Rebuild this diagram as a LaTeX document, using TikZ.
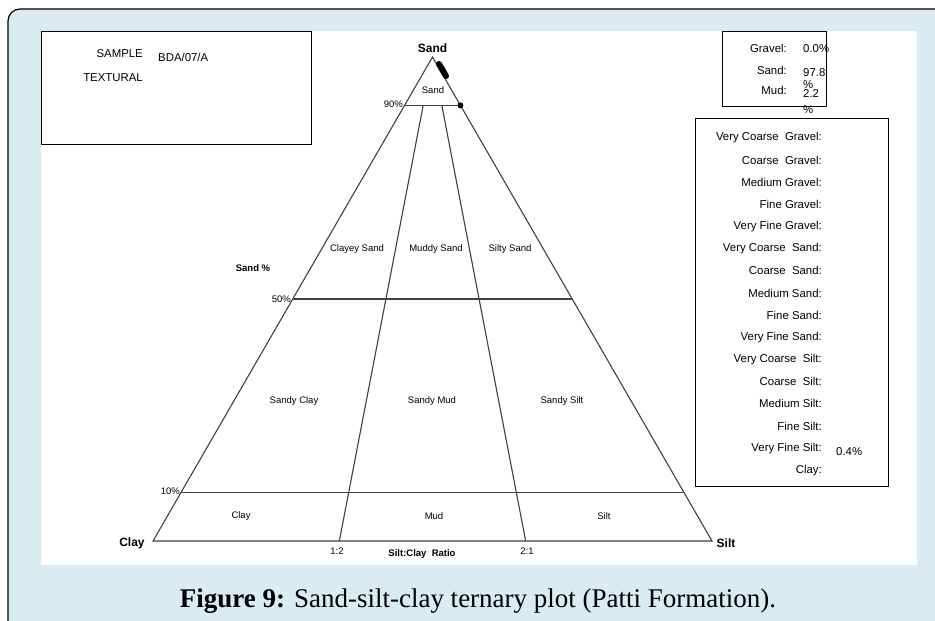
\documentclass[tikz,border=0pt]{standalone}
\usepackage{fontspec}
\setmainfont{Liberation Sans}
\newfontfamily\capfont{Liberation Serif}
\usetikzlibrary{calc}
\definecolor{bgblue}{HTML}{D8ECF1}
\definecolor{linegray}{HTML}{404040}
\tikzset{
  lbl/.style={font=\fontsize{9.5}{10}\selectfont, inner sep=0pt},
  vtx/.style={font=\bfseries\fontsize{12}{13}\selectfont, inner sep=0pt},
  info/.style={font=\fontsize{11.4}{12}\selectfont, inner sep=0pt},
  rinfo/.style={info, anchor=east},
  linfo/.style={info, anchor=west},
  tri/.style={draw=linegray, line width=1.1pt},
  boxs/.style={draw=black, line width=0.8pt, fill=white}
}
\begin{document}
\begin{tikzpicture}[x=1pt,y=-1pt]
\useasboundingbox (0,0) rectangle (935,621);
\clip (0,0) rectangle (935,621);
% frame
\draw[fill=bgblue, draw=black, line width=1.2pt, rounded corners=12pt] (8,9) rectangle (990,680);
\fill[white] (41,31) rectangle (917,565);
% triangle
\coordinate (A) at (432.5,57);
\coordinate (C) at (153,541);
\coordinate (S) at (712,541);
\draw[tri] (A) -- (C) -- (S) -- cycle;
\coordinate (l90) at ($(C)!0.9!(A)$);
\coordinate (r90) at ($(S)!0.9!(A)$);
\coordinate (l50) at ($(C)!0.5!(A)$);
\coordinate (r50) at ($(S)!0.5!(A)$);
\coordinate (l10) at ($(C)!0.1!(A)$);
\coordinate (r10) at ($(S)!0.1!(A)$);
\draw[tri] (l90) -- (r90);
\draw[tri] (l50) -- (r50);
\draw[tri] (l10) -- (r10);
\coordinate (b12) at ($(C)!1/3!(S)$);
\coordinate (b21) at ($(C)!2/3!(S)$);
\coordinate (t12) at ($(b12)!0.9!(A)$);
\coordinate (t21) at ($(b21)!0.9!(A)$);
\draw[tri] (b12) -- (t12);
\draw[tri] (b21) -- (t21);
% data marks
\coordinate (m1) at (439,64);
\coordinate (m2) at (446,76);
\draw[line width=6pt, line cap=round] (m1) -- (m2);
\fill (r90) circle (3pt);
% labels
\node[vtx] (nSand) at (432.5,48) {Sand};
\node[vtx] (nClay) at (132,543) {Clay};
\node[vtx] (nSilt) at (726,543) {Silt};
\node[lbl] (sandin) at (433,90) {Sand};
\node[lbl, anchor=east] (p90) at (403,104) {90\%};
\node[lbl, anchor=east] (p50) at (291,299) {50\%};
\node[lbl, anchor=east] (p10) at (180,491) {10\%};
\node[lbl, font=\bfseries\fontsize{9.5}{10}\selectfont] (sandpct) at (253,268) {Sand \%};
\node[lbl] (cs) at (357,249) {Clayey Sand};
\node[lbl] (ms) at (436,249) {Muddy Sand};
\node[lbl] (ss) at (510,249) {Silty Sand};
\node[lbl] (sc) at (294,401) {Sandy Clay};
\node[lbl] (sm) at (432,401) {Sandy Mud};
\node[lbl] (sst) at (562,401) {Sandy Silt};
\node[lbl] (cl) at (241,516) {Clay};
\node[lbl] (md) at (434,516) {Mud};
\node[lbl] (st) at (604,516) {Silt};
\node[lbl] (r12) at (337,551) {1:2};
\node[lbl] (r21) at (527,551) {2:1};
\node[lbl, font=\bfseries\fontsize{9.5}{10}\selectfont] (ratio) at (422,554) {Silt:Clay\ \ Ratio};
% left box
\draw[boxs] (41,31) rectangle (311,144);
\node[rinfo] (samp) at (143,54) {SAMPLE};
\node[linfo] (sampv) at (158,57) {BDA/07/A};
\node[rinfo] (text) at (143,78) {TEXTURAL};
% top right box
\draw[boxs] (722,31) rectangle (826,106);
\node[rinfo] (g) at (787,48) {Gravel:};
\node[linfo] (gv) at (803,49) {0.0\%};
\node[rinfo] (s) at (787,70) {Sand:};
\node[linfo] (sv) at (803,73) {97.8};
\node[linfo] (svp) at (803,85) {\%};
\node[rinfo] (m) at (787,90) {Mud:};
\node[linfo] (mv) at (803,94) {2.2};
\node[linfo] (mvp) at (803,110) {\%};
% right list box
\draw[boxs] (695,118) rectangle (888,486);
\foreach \t [count=\i from 0] in {Very Coarse\ \ Gravel:, Coarse\ \ Gravel:, Medium Gravel:, Fine Gravel:, Very Fine Gravel:, Very Coarse\ \ Sand:, Coarse\ \ Sand:, Medium Sand:, Fine Sand:, Very Fine Sand:, Very Coarse\ \ Silt:, Coarse\ \ Silt:, Medium Silt:, Fine Silt:, Very Fine Silt:, Clay:}
  \node[rinfo] (f\i) at (822,{138+22.15*\i}) {\t};
\node[linfo] (vfs) at (836,452) {0.4\%};
% caption
\node[font=\capfont\fontsize{27}{29}\selectfont, inner sep=0pt] (cap) at (478,601) {\textbf{Figure 9:} Sand-silt-clay ternary plot (Patti Formation).};
\end{tikzpicture}
\end{document}
